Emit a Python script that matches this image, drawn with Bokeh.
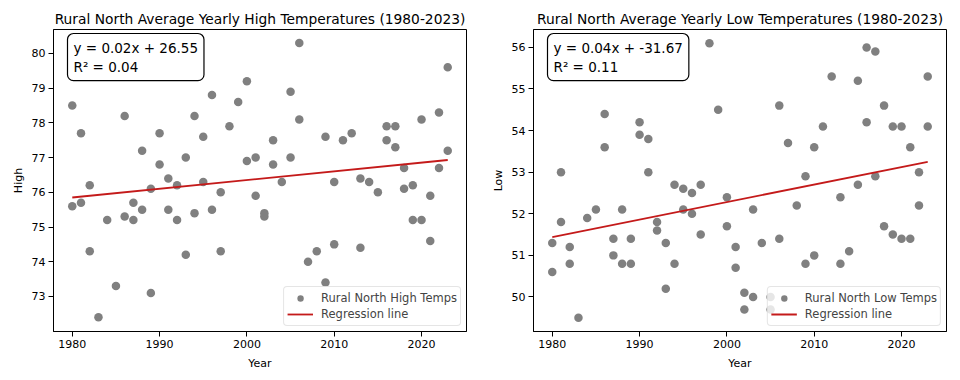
from bokeh.plotting import figure
from bokeh.models import Range1d, Label, FixedTicker
from bokeh.layouts import row
from bokeh.embed import file_html
from bokeh.resources import INLINE

# ---------------- data ----------------
high_years = [1980, 1980, 1981, 1981, 1982, 1982, 1983, 1984, 1985, 1986, 1986,
              1987, 1987, 1988, 1988, 1989, 1989, 1990, 1990, 1991, 1991, 1992, 1992,
              1993, 1993, 1994, 1994, 1995, 1995, 1996, 1996, 1997, 1997, 1998, 1999,
              2000, 2000, 2001, 2001, 2002, 2002, 2003, 2003, 2004, 2005, 2005,
              2006, 2006, 2007, 2008, 2009, 2009, 2010, 2010, 2011, 2012, 2013, 2013,
              2014, 2015, 2016, 2016, 2017, 2017, 2018, 2018, 2019, 2019, 2020, 2020,
              2021, 2021, 2022, 2022, 2023, 2023]
high_temps = [78.5, 75.6, 77.7, 75.7, 76.2, 74.3, 72.4, 75.2, 73.3, 78.2, 75.3,
              75.7, 75.2, 77.2, 75.5, 76.1, 73.1, 77.7, 76.8, 76.4, 75.5, 76.2, 75.2,
              77.0, 74.2, 78.2, 75.4, 77.6, 76.3, 78.8, 75.5, 76.0, 74.3, 77.9, 78.6,
              79.2, 76.9, 77.0, 75.9, 75.4, 75.3, 77.5, 76.8, 76.3, 78.9, 77.0,
              80.3, 78.1, 74.0, 74.3, 77.6, 73.4, 76.3, 74.5, 77.5, 77.7, 76.4, 74.4,
              76.3, 76.0, 77.9, 77.5, 77.9, 77.3, 76.7, 76.1, 76.2, 75.2, 78.1, 75.2,
              75.9, 74.6, 78.3, 76.7, 79.6, 77.2]

low_years = [1980, 1980, 1981, 1981, 1982, 1982, 1983, 1984, 1985, 1986, 1986,
             1987, 1987, 1988, 1988, 1989, 1989, 1990, 1990, 1991, 1991, 1992, 1992,
             1993, 1993, 1994, 1994, 1995, 1995, 1996, 1996, 1997, 1997, 1998, 1999,
             2000, 2000, 2001, 2001, 2002, 2002, 2003, 2003, 2004, 2005, 2005,
             2006, 2006, 2007, 2008, 2009, 2009, 2010, 2010, 2011, 2012, 2013, 2013,
             2014, 2015, 2015, 2016, 2016, 2017, 2017, 2018, 2018, 2019, 2019,
             2020, 2020, 2021, 2021, 2022, 2022, 2023, 2023]
low_temps = [51.3, 50.6, 53.0, 51.8, 51.2, 50.8, 49.5, 51.9, 52.1, 54.4, 53.6,
             51.4, 51.0, 52.1, 50.8, 51.4, 50.8, 54.2, 53.9, 53.8, 53.0, 51.8, 51.6,
             51.3, 50.2, 52.7, 50.8, 52.6, 52.1, 52.5, 52.0, 52.7, 51.5, 56.1, 54.5,
             52.4, 51.7, 51.2, 50.7, 50.1, 49.7, 52.1, 50.0, 51.3, 50.0, 49.7,
             54.6, 51.4, 53.7, 52.2, 52.9, 50.8, 53.6, 51.0, 54.1, 55.3, 52.4, 50.8,
             51.1, 55.2, 52.7, 56.0, 54.2, 55.9, 52.9, 54.6, 51.7, 54.1, 51.5,
             54.1, 51.4, 53.6, 51.4, 53.0, 52.2, 55.3, 54.1]

reg_years = [1980, 2023]
high_reg = [75.85, 76.93]
low_reg = [51.44, 53.25]

x_ticks = [1980, 1990, 2000, 2010, 2020]
high_ticks = [73, 74, 75, 76, 77, 78, 79, 80]
low_ticks = [50, 51, 52, 53, 54, 55, 56]

high_title = "Rural North Average Yearly High Temperatures (1980-2023)"
low_title = "Rural North Average Yearly Low Temperatures (1980-2023)"
high_eq = "y = 0.02x + 26.55\nR\u00b2 = 0.04"
low_eq = "y = 0.04x + -31.67\nR\u00b2 = 0.11"

FONT = "DejaVu Sans"
PT_COLOR = "#808080"
LINE_COLOR = "#c41a1a"


def make_panel(title, xs, ys, reg_y, ylabel, yr, yticks, eq, pt_label, bl, br):
    p = figure(width=480, height=372, output_backend="svg", toolbar_location=None,
               x_range=Range1d(1977.85, 2025.15), y_range=Range1d(*yr),
               min_border_left=bl, min_border_right=br, min_border_top=29,
               min_border_bottom=36)
    p.title.text = title
    p.title.text_font = FONT
    p.title.text_font_size = "13.8px"
    p.title.text_font_style = "normal"
    p.title.text_color = "black"
    p.title.align = "center"
    p.title.standoff = 5
    p.title.offset = 0

    p.xgrid.visible = False
    p.ygrid.visible = False
    p.outline_line_color = "black"
    p.outline_line_alpha = 1
    p.outline_line_width = 1
    p.background_fill_color = "white"
    p.border_fill_color = "white"

    p.xaxis.ticker = FixedTicker(ticks=x_ticks)
    p.yaxis.ticker = FixedTicker(ticks=yticks)
    for ax in (p.xaxis[0], p.yaxis[0]):
        ax.major_label_text_font = FONT
        ax.major_label_text_font_size = "11px"
        ax.major_label_text_color = "black"
        ax.axis_label_text_font = FONT
        ax.axis_label_text_font_size = "11px"
        ax.axis_label_text_font_style = "normal"
        ax.axis_label_text_color = "black"
        ax.axis_line_color = "black"
        ax.major_tick_line_color = "black"
        ax.major_tick_out = 5
        ax.major_tick_in = 0
        ax.minor_tick_line_color = None
        ax.major_label_standoff = 3
        ax.axis_label_standoff = 4
    p.xaxis.axis_label_standoff = 6
    p.xaxis.axis_label = "Year"
    p.yaxis.axis_label = ylabel

    p.scatter(xs, ys, size=8.5, fill_color=PT_COLOR, line_color=None,
              legend_label=pt_label)
    p.line(reg_years, reg_y, line_color=LINE_COLOR, line_width=1.8,
           legend_label="Regression line")

    lg = p.legend[0]
    lg.location = "bottom_right"
    lg.margin = 5
    lg.padding = 3
    lg.spacing = 0
    lg.label_height = 16
    lg.glyph_height = 16
    lg.glyph_width = 26
    lg.label_standoff = 8
    lg.label_text_font = FONT
    lg.label_text_font_size = "11.5px"
    lg.border_line_color = "#cccccc"
    lg.border_line_width = 1
    lg.background_fill_color = "white"
    lg.background_fill_alpha = 0.8
    if hasattr(lg, "border_radius"):
        lg.border_radius = 4

    lab = Label(x=14, y=298, x_units="screen", y_units="screen", text=eq,
                anchor="top_left", text_font=FONT, text_font_size="13.5px",
                text_color="black", background_fill_color="white",
                border_line_color="black", border_line_width=1.2, padding=6)
    if hasattr(lab, "border_radius"):
        lab.border_radius = 6
    p.add_layout(lab)
    return p


p1 = make_panel(high_title, high_years, high_temps, high_reg, "High", (71.99, 80.69),
                high_ticks, high_eq, "Rural North High Temps", 53, 14)
p2 = make_panel(low_title, low_years, low_temps, low_reg, "Low", (49.17, 56.43),
                low_ticks, low_eq, "Rural North Low Temps", 53, 14)

layout = row(p1, p2)
open("out.html", "w").write(file_html(layout, INLINE))
